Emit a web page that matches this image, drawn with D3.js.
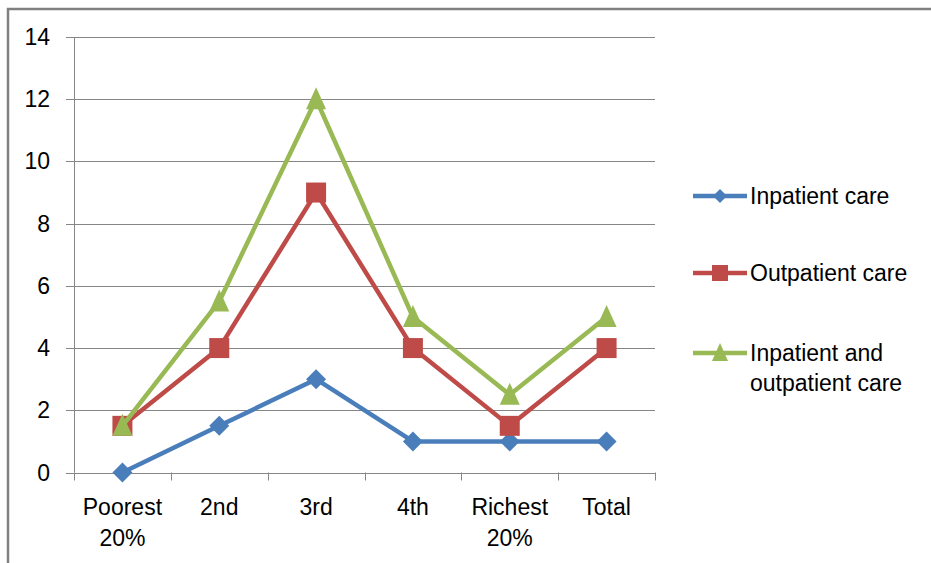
<!DOCTYPE html>
<html><head><meta charset="utf-8">
<script src="https://cdn.jsdelivr.net/npm/d3@7"></script>
<style>html,body{margin:0;padding:0;background:#fff;}svg{display:block;}</style>
</head><body>
<svg id="chart" width="931" height="563"></svg>
<script>
const categories = [["Poorest","20%"],["2nd"],["3rd"],["4th"],["Richest","20%"],["Total"]];
const seriesNames = ["Inpatient care","Outpatient care",["Inpatient and","outpatient care"]];
const inpatient = [0, 1.5, 3, 1, 1, 1];
const outpatient = [1.5, 4, 9, 4, 1.5, 4];
const both = [1.5, 5.5, 12, 5, 2.5, 5];
const yTicks = [0, 2, 4, 6, 8, 10, 12, 14];
const colors = ["#4A7EBB", "#BE4B48", "#98B954"];
const markers = ["diamond", "square", "triangle"];

const svg = d3.select("#chart");
const font = "'Liberation Sans', Arial, sans-serif";
const fs = 23;

// outer border
svg.append("path").attr("d", "M8,563 L8,9 L931,9")
  .attr("fill", "none").attr("stroke", "#808080").attr("stroke-width", 2.5);

const x = d3.scaleBand().domain(d3.range(categories.length)).range([74, 655]).padding(0);
const y = d3.scaleLinear().domain([0, 14]).range([472.5, 37]);

// gridlines
svg.append("g").selectAll("line").data(yTicks).join("line")
  .attr("x1", 66).attr("x2", 655)
  .attr("y1", d => Math.round(y(d)) + 0.5).attr("y2", d => Math.round(y(d)) + 0.5)
  .attr("stroke", "#868686").attr("stroke-width", 1);

// y axis line
svg.append("line").attr("x1", 74.5).attr("x2", 74.5).attr("y1", y(14)).attr("y2", y(0))
  .attr("stroke", "#868686");

// y labels
svg.append("g").selectAll("text").data(yTicks).join("text")
  .attr("x", 50).attr("y", d => y(d) + 8)
  .attr("text-anchor", "end").attr("font-family", font).attr("font-size", fs).attr("fill", "#000")
  .text(d => d);

// x axis ticks
const xt = d3.range(categories.length + 1).map(i => i === categories.length ? x.range()[1] : x(i));
svg.append("g").selectAll("line").data(xt).join("line")
  .attr("x1", d => Math.round(d) + 0.5).attr("x2", d => Math.round(d) + 0.5)
  .attr("y1", y(0)).attr("y2", y(0) + 8)
  .attr("stroke", "#868686");

// x labels
const xl = svg.append("g").selectAll("text").data(categories).join("text")
  .attr("x", (d, i) => x(i) + x.bandwidth() / 2).attr("y", 515)
  .attr("text-anchor", "middle").attr("font-family", font).attr("font-size", fs).attr("fill", "#000");
xl.selectAll("tspan").data(d => d).join("tspan")
  .attr("x", function() { return this.parentNode.getAttribute("x"); })
  .attr("dy", (d, i) => i === 0 ? 0 : 31)
  .text(d => d);

function markerPath(type, r) {
  if (type === "diamond") return `M0,${-r}L${r},0L0,${r}L${-r},0Z`;
  if (type === "square") return `M${-r},${-r}H${r}V${r}H${-r}Z`;
  const h = r;
  return `M0,${-h - 2}L${r},${h}L${-r},${h}Z`;
}

const allSeries = [inpatient, outpatient, both];
const line = d3.line().x((d, i) => x(i) + x.bandwidth() / 2).y(d => y(d));
allSeries.forEach((vals, s) => {
  const g = svg.append("g");
  g.append("path").attr("d", line(vals)).attr("fill", "none")
    .attr("stroke", colors[s]).attr("stroke-width", 4.5).attr("stroke-linejoin", "round");
  g.selectAll("path.m").data(vals).join("path").attr("class", "m")
    .attr("transform", (d, i) => `translate(${x(i) + x.bandwidth() / 2},${y(d)})`)
    .attr("d", markerPath(markers[s], s === 0 ? 10 : 10))
    .attr("fill", colors[s]);
});

// legend
const legY = [196, 273, 353];
seriesNames.forEach((name, s) => {
  const g = svg.append("g");
  g.append("line").attr("x1", 693).attr("x2", 747).attr("y1", legY[s]).attr("y2", legY[s])
    .attr("stroke", colors[s]).attr("stroke-width", 4.5);
  g.append("path").attr("transform", `translate(720,${legY[s]})`)
    .attr("d", markerPath(markers[s], s === 0 ? 7 : 8)).attr("fill", colors[s]);
  const lines = Array.isArray(name) ? name : [name];
  const t = g.append("text").attr("x", 750).attr("y", legY[s] + 8)
    .attr("font-family", font).attr("font-size", fs).attr("fill", "#000");
  t.selectAll("tspan").data(lines).join("tspan").attr("x", 750)
    .attr("dy", (d, i) => i === 0 ? 0 : 30).text(d => d);
});
</script>
</body></html>
